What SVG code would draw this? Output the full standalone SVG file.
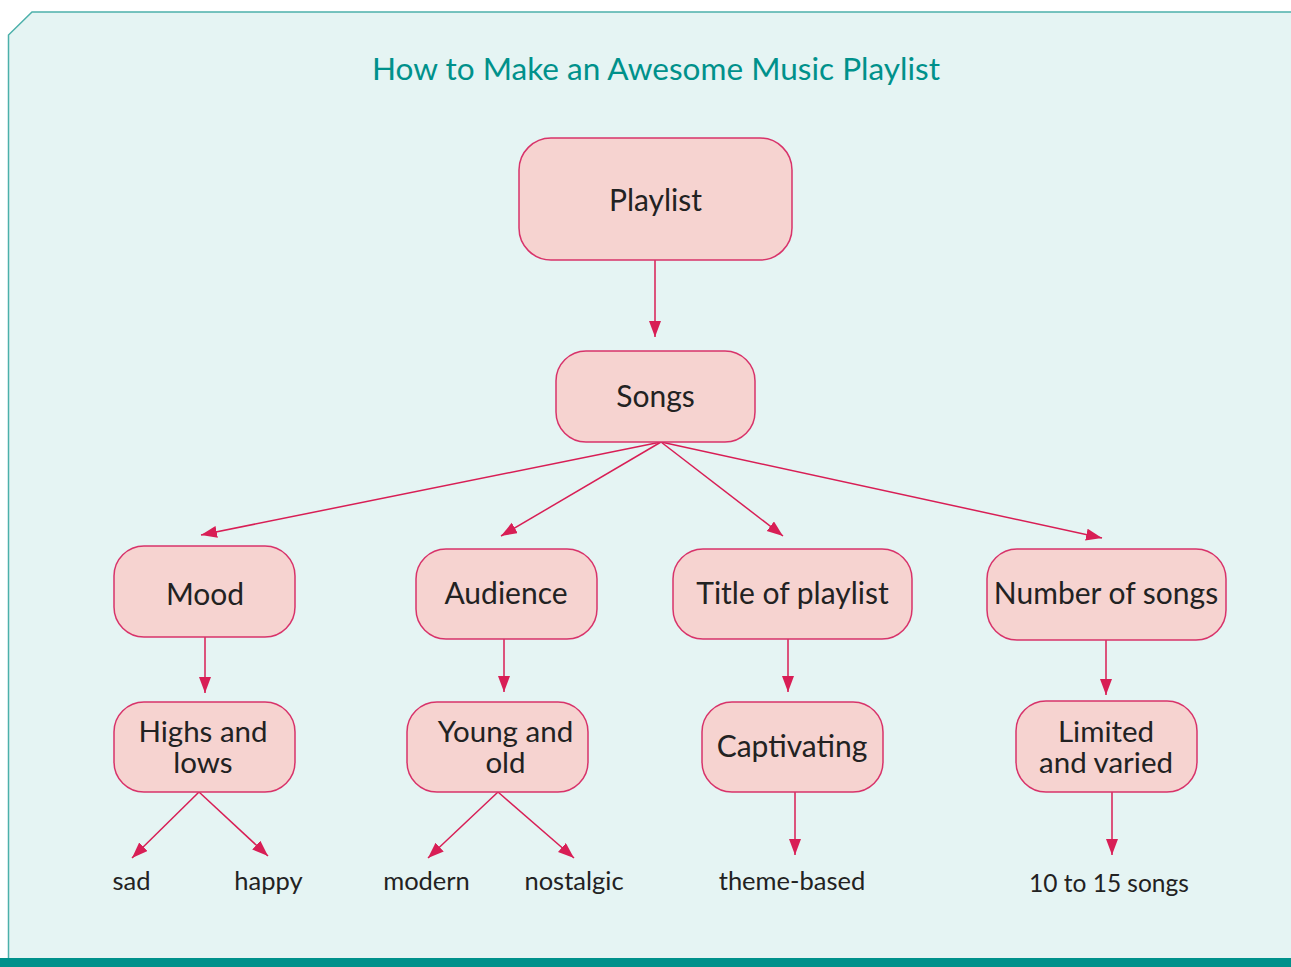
<svg xmlns="http://www.w3.org/2000/svg" width="1291" height="967" viewBox="0 0 1291 967">
<defs>
<style>
.node rect{fill:#f6d3d0;stroke:#d8336a;stroke-width:1.5}
.node text{font-family:Lato,"Noto Sans",sans-serif;font-size:30px;fill:#222;text-anchor:middle}
.node text.two{font-size:29.5px}
.leaf{font-family:Lato,"Noto Sans",sans-serif;font-size:25.5px;fill:#222;text-anchor:middle}
.edge{stroke:#d81e55;stroke-width:1.5;fill:none;marker-end:url(#ah)}
</style>
<marker id="ah" markerUnits="userSpaceOnUse" markerWidth="18" markerHeight="14" refX="16" refY="6" orient="auto">
<path d="M0,0 L16,6 L0,12 Z" fill="#d81e55"/>
</marker>
</defs>
<rect x="0" y="0" width="1291" height="967" fill="#ffffff"/>
<path d="M8.5,958 L8.5,35 L32,12 L1300,12 L1300,958 Z" fill="#e5f4f3" stroke="none"/>
<path d="M8.5,958 L8.5,35 L32,12 L1300,12" fill="none" stroke="#4cb0aa" stroke-width="1.5"/>
<rect x="0" y="958" width="1291" height="9" fill="#00918b"/>
<text x="656" y="80" font-family="Lato,'Noto Sans',sans-serif" font-size="30" fill="#00918b" text-anchor="middle" textLength="568" lengthAdjust="spacingAndGlyphs">How to Make an Awesome Music Playlist</text>

<g id="connectors">
<line class="edge" x1="655" y1="260" x2="655" y2="337"/>
<line class="edge" x1="661" y1="442" x2="201" y2="535"/>
<line class="edge" x1="661" y1="442" x2="501" y2="536"/>
<line class="edge" x1="661" y1="442" x2="783" y2="536"/>
<line class="edge" x1="661" y1="442" x2="1102" y2="538"/>
<line class="edge" x1="205" y1="637" x2="205" y2="693"/>
<line class="edge" x1="504" y1="639" x2="504" y2="692"/>
<line class="edge" x1="788" y1="639" x2="788" y2="692"/>
<line class="edge" x1="1106" y1="640" x2="1106" y2="695"/>
<line class="edge" x1="199" y1="792" x2="132" y2="858"/>
<line class="edge" x1="199" y1="792" x2="268" y2="856"/>
<line class="edge" x1="498" y1="792" x2="428" y2="858"/>
<line class="edge" x1="498" y1="792" x2="574" y2="858"/>
<line class="edge" x1="795" y1="792" x2="795" y2="855"/>
<line class="edge" x1="1112" y1="792" x2="1112" y2="855"/>
</g>

<g id="n-playlist" class="node"><rect x="519" y="138" width="273" height="122" rx="32"/><text x="655.5" y="211">Playlist</text></g>
<g id="n-songs" class="node"><rect x="556" y="351" width="199" height="91" rx="30"/><text x="655.5" y="407">Songs</text></g>
<g id="n-mood" class="node"><rect x="114" y="546" width="181" height="91" rx="30"/><text x="205" y="605">Mood</text></g>
<g id="n-audience" class="node"><rect x="416" y="549" width="181" height="90" rx="30"/><text x="506" y="604">Audience</text></g>
<g id="n-title" class="node"><rect x="673" y="549" width="239" height="90" rx="30"/><text x="792.5" y="604">Title of playlist</text></g>
<g id="n-number" class="node"><rect x="987" y="549" width="239" height="91" rx="30"/><text x="1106" y="604">Number of songs</text></g>
<g id="n-highs" class="node"><rect x="114" y="702" width="181" height="90" rx="30"/><text class="two"><tspan x="203" y="741.5">Highs and</tspan><tspan x="203" y="773">lows</tspan></text></g>
<g id="n-young" class="node"><rect x="407" y="702" width="181" height="90" rx="30"/><text class="two"><tspan x="505.5" y="741.5">Young and</tspan><tspan x="505.5" y="773">old</tspan></text></g>
<g id="n-captivating" class="node"><rect x="702" y="702" width="181" height="90" rx="30"/><text x="792" y="757">Captivating</text></g>
<g id="n-limited" class="node"><rect x="1016" y="701" width="181" height="91" rx="30"/><text class="two"><tspan x="1106" y="741.5">Limited</tspan><tspan x="1106" y="773">and varied</tspan></text></g>

<g id="n-sad"><text class="leaf" x="131.5" y="890">sad</text></g>
<g id="n-happy"><text class="leaf" x="268.5" y="890">happy</text></g>
<g id="n-modern"><text class="leaf" x="426.5" y="890">modern</text></g>
<g id="n-nostalgic"><text class="leaf" x="574" y="890">nostalgic</text></g>
<g id="n-theme"><text class="leaf" x="792" y="890">theme-based</text></g>
<g id="n-range"><text class="leaf" x="1109" y="892" style="font-size:24.5px">10 to 15 songs</text></g>
</svg>
